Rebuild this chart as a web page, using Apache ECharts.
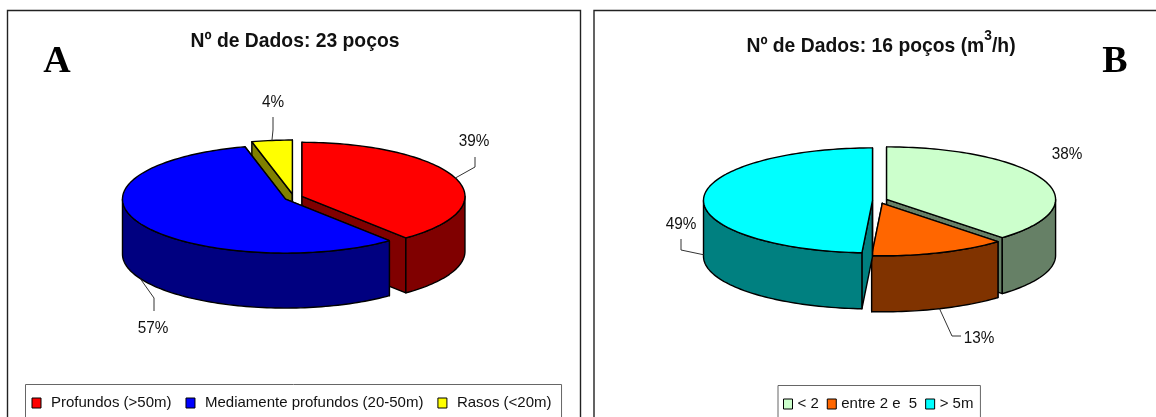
<!DOCTYPE html>
<html>
<head>
<meta charset="utf-8">
<style>html,body{margin:0;padding:0;background:#fff}#chart{width:1156px;height:417px}</style>
<script src="https://cdn.jsdelivr.net/npm/echarts@6/dist/echarts.min.js"></script>
</head>
<body>
<div id="chart"></div>
<script>
// Well depth classes (panel A), percentages as labelled
const depthCategories = ['Profundos (>50m)', 'Mediamente profundos (20-50m)', 'Rasos (<20m)'];
const depthValues = [39, 57, 4];
const depthTitle = 'Nº de Dados: 23 poços';

// Well yield classes (panel B), percentages as labelled
const yieldCategories = ['< 2', 'entre 2 e  5', '> 5m'];
const yieldValues = [38, 13, 49];
const yieldTitleParts = ['Nº de Dados: 16 poços (m', '3', '/h)'];

const SANS = '"Liberation Sans", Arial, sans-serif';
const SERIF = '"Liberation Serif", "Times New Roman", serif';

// Pie geometry and per-slice drawing details; angles run clockwise from 12 o'clock.
const pies = [
  {
    categories: depthCategories, values: depthValues,
    cx: 293.5, cy: 197.5, rx: 163, ry: 54, depth: 55, explodeX: 9, explodeY: 3.5,
    tops: ['#ff0000', '#0000ff', '#ffff00'],
    walls: ['#800000', '#000080', '#808000'],
    paintOrder: [2, 0, 1],
    callouts: [
      { elbows: [[475, 167], [475, 157]], text: [474, 141] },
      { elbows: [[154, 298], [154, 311]], text: [153, 328] },
      { elbows: [[273, 130], [273, 117]], text: [273, 102] }
    ]
  },
  {
    categories: yieldCategories, values: yieldValues,
    cx: 879.8, cy: 200.5, rx: 169, ry: 52.5, depth: 56, explodeX: 7.3, explodeY: 3,
    tops: ['#ccffcc', '#ff6600', '#00ffff'],
    walls: ['#668066', '#803300', '#008080'],
    paintOrder: [0, 1, 2],
    callouts: [
      { elbows: [], text: [1067, 154], noLeader: true },
      { elbows: [[952, 336], [961, 336]], text: [979, 338] },
      { elbows: [[681, 250], [681, 239]], text: [681, 224], fromBase: true }
    ]
  }
];

const rad = d => d * Math.PI / 180;

function arcPoints(c, pie, from, to) {
  const pts = [];
  const steps = Math.max(2, Math.ceil(Math.abs(to - from) / 1.5));
  for (let i = 0; i <= steps; i++) {
    const t = rad(from + (to - from) * i / steps);
    pts.push([c[0] + pie.rx * Math.sin(t), c[1] - pie.ry * Math.cos(t)]);
  }
  return pts;
}

// One exploded 3D slice: cut faces, curved outer wall, top face, then leader and label.
function sliceRenderer(pie, index, startPct) {
  return function (params, api) {
    const value = api.value(0);
    const start = startPct * 3.6;
    const end = (startPct + value) * 3.6;
    const mid = rad((start + end) / 2);
    const c = [pie.cx + pie.explodeX * Math.sin(mid), pie.cy - pie.explodeY * Math.cos(mid)];
    const down = p => [p[0], p[1] + pie.depth];
    const edgeStyle = { stroke: '#000', lineWidth: 1.4, lineJoin: 'round' };
    const wallFill = Object.assign({ fill: pie.walls[index] }, edgeStyle);
    const children = [];
    const face = (angle) => {
      const rim = arcPoints(c, pie, angle, angle)[0];
      children.push({ type: 'polygon', shape: { points: [c, rim, down(rim), down(c)] }, style: wallFill });
    };
    face(start);
    face(end);
    const wallFrom = Math.max(start, 90), wallTo = Math.min(end, 270);
    if (wallTo > wallFrom) {
      const rim = arcPoints(c, pie, wallFrom, wallTo);
      children.push({
        type: 'polygon',
        shape: { points: rim.concat(rim.map(down).reverse()) },
        style: wallFill
      });
    }
    children.push({
      type: 'polygon',
      shape: { points: [c].concat(arcPoints(c, pie, start, end)) },
      style: Object.assign({ fill: pie.tops[index] }, edgeStyle)
    });
    const callout = pie.callouts[index];
    if (!callout.noLeader) {
      const anchorAngle = (start + end) / 2;
      let anchor = arcPoints(c, pie, anchorAngle, anchorAngle)[0];
      if ((anchorAngle > 90 && anchorAngle < 270) || callout.fromBase) anchor = down(anchor);
      children.push({
        type: 'polyline',
        shape: { points: [anchor].concat(callout.elbows) },
        style: { stroke: '#333', lineWidth: 1, fill: null }
      });
    }
    children.push({
      type: 'text', x: callout.text[0], y: callout.text[1], scaleX: 0.9,
      style: { text: value + '%', font: '17px ' + SANS, fill: '#111', align: 'center', verticalAlign: 'middle' }
    });
    return { type: 'group', children };
  };
}

const series = [];
pies.forEach(pie => {
  let running = 0;
  const starts = pie.values.map(v => { const s = running; running += v; return s; });
  pie.categories.forEach((name, i) => {
    series.push({
      type: 'custom',
      name,
      coordinateSystem: 'none',
      silent: true,
      z: 2 + pie.paintOrder.indexOf(i),
      itemStyle: { color: pie.tops[i] },
      data: [[pie.values[i]]],
      renderItem: sliceRenderer(pie, i, starts[i])
    });
  });
});

const legendBase = {
  orient: 'horizontal',
  icon: 'rect',
  itemWidth: 9,
  itemHeight: 10,
  selectedMode: false,
  borderColor: '#666',
  borderWidth: 1,
  backgroundColor: '#fff',
  z: 1,
  itemStyle: { borderColor: '#000', borderWidth: 1 }
};

const frame = (x, w) => ({
  type: 'rect', z: 0, silent: true,
  shape: { x, y: 10.5, width: w, height: 430 },
  style: { fill: '#fff', stroke: '#222', lineWidth: 1.4 }
});

const titleFont = 'bold 21px ' + SANS;

const option = {
  animation: false,
  backgroundColor: '#fff',
  legend: [
    Object.assign({}, legendBase, {
      data: depthCategories,
      left: 25.5, top: 384.5,
      padding: [11, 10, 30, 6],
      itemGap: 14,
      textStyle: { fontFamily: SANS, fontSize: 15, color: '#111', padding: [0, 0, 0, 5] }
    }),
    Object.assign({}, legendBase, {
      data: yieldCategories,
      left: 778, top: 385.5,
      padding: [11, 7, 30, 5],
      itemGap: 8,
      textStyle: { fontFamily: SANS, fontSize: 15, color: '#111' }
    })
  ],
  graphic: [
    frame(7.5, 573),
    frame(594, 580),
    {
      type: 'text', x: 295, y: 41, scaleX: 0.92, z: 5, silent: true,
      style: { text: depthTitle, font: titleFont, fill: '#111', align: 'center', verticalAlign: 'middle' }
    },
    {
      type: 'text', x: 881, y: 46, scaleX: 0.92, z: 5, silent: true,
      style: {
        text: '{a|' + yieldTitleParts[0] + '}{s|' + yieldTitleParts[1] + '}{a|' + yieldTitleParts[2] + '}',
        align: 'center', verticalAlign: 'middle', fill: '#111',
        rich: {
          a: { font: titleFont, fill: '#111', lineHeight: 36 },
          s: { font: 'bold 15px ' + SANS, fill: '#111', lineHeight: 15, verticalAlign: 'top' }
        }
      }
    },
    {
      type: 'text', x: 57, y: 62, z: 5, silent: true,
      style: { text: 'A', font: 'bold 38px ' + SERIF, fill: '#000', align: 'center', verticalAlign: 'middle' }
    },
    {
      type: 'text', x: 1115, y: 62, z: 5, silent: true,
      style: { text: 'B', font: 'bold 38px ' + SERIF, fill: '#000', align: 'center', verticalAlign: 'middle' }
    }
  ],
  series
};

echarts.init(document.getElementById('chart')).setOption(option);
</script>
</body>
</html>
